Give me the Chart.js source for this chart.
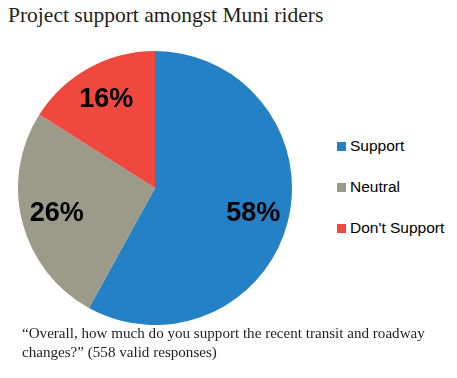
<!DOCTYPE html>
<html>
<head>
<meta charset="utf-8">
<script src="https://cdn.jsdelivr.net/npm/chart.js@4"></script>
<style>
  html, body { margin: 0; padding: 0; background: #fff; }
  #wrap { position: relative; width: 457px; height: 378px; overflow: hidden; }
  #title { position: absolute; left: 8px; top: 3px; font-family: "Liberation Serif", serif; font-size: 21.5px; color: #231f20; white-space: nowrap; }
  #pieBox { position: absolute; left: 18px; top: 51px; width: 274px; height: 274px; }
  #legend { position: absolute; left: 337px; top: 137px; font-family: "Liberation Sans", Arial, sans-serif; font-size: 15.5px; color: #000; }
  .item { position: relative; height: 41px; line-height: 18px; white-space: nowrap; }
  .sw { display: inline-block; width: 9px; height: 9px; margin-right: 4px; vertical-align: 0px; }
  #caption { position: absolute; left: 22px; top: 324px; width: 435px; font-family: "Liberation Serif", serif; font-size: 15.1px; line-height: 19px; color: #231f20; }
</style>
</head>
<body>
<div id="wrap">
  <div id="title">Project support amongst Muni riders</div>
  <div id="pieBox"><canvas id="c"></canvas></div>
  <div id="legend"></div>
  <div id="caption">“Overall, how much do you support the recent transit and roadway changes?” (558 valid responses)</div>
</div>
<script>
const categories = ["Support", "Neutral", "Don't Support"];
const values = [58, 26, 16];
const colors = ["#2481c5", "#9c9a89", "#f0483e"];

const legend = document.getElementById('legend');
categories.forEach((c, i) => {
  const d = document.createElement('div');
  d.className = 'item';
  const s = document.createElement('span');
  s.className = 'sw';
  s.style.background = colors[i];
  d.appendChild(s);
  d.appendChild(document.createTextNode(c));
  legend.appendChild(d);
});

const pctLabels = {
  id: 'pctLabels',
  afterDatasetsDraw(chart) {
    const ctx = chart.ctx;
    const meta = chart.getDatasetMeta(0);
    ctx.save();
    ctx.font = 'bold 27px "Liberation Sans", Arial, sans-serif';
    ctx.fillStyle = '#000';
    ctx.textAlign = 'center';
    ctx.textBaseline = 'middle';
    meta.data.forEach((arc, i) => {
      const p = arc.getProps(['x', 'y', 'startAngle', 'endAngle', 'outerRadius'], true);
      const mid = (p.startAngle + p.endAngle) / 2;
      const r = p.outerRadius * 0.74;
      ctx.fillText(values[i] + '%', p.x + Math.cos(mid) * r, p.y + Math.sin(mid) * r);
    });
    ctx.restore();
  }
};

new Chart(document.getElementById('c'), {
  type: 'pie',
  data: {
    labels: categories,
    datasets: [{ data: values, backgroundColor: colors, borderWidth: 0 }]
  },
  options: {
    responsive: true,
    maintainAspectRatio: false,
    animation: false,
    layout: { padding: 0 },
    plugins: { legend: { display: false }, tooltip: { enabled: false } }
  },
  plugins: [pctLabels]
});
</script>
</body>
</html>
